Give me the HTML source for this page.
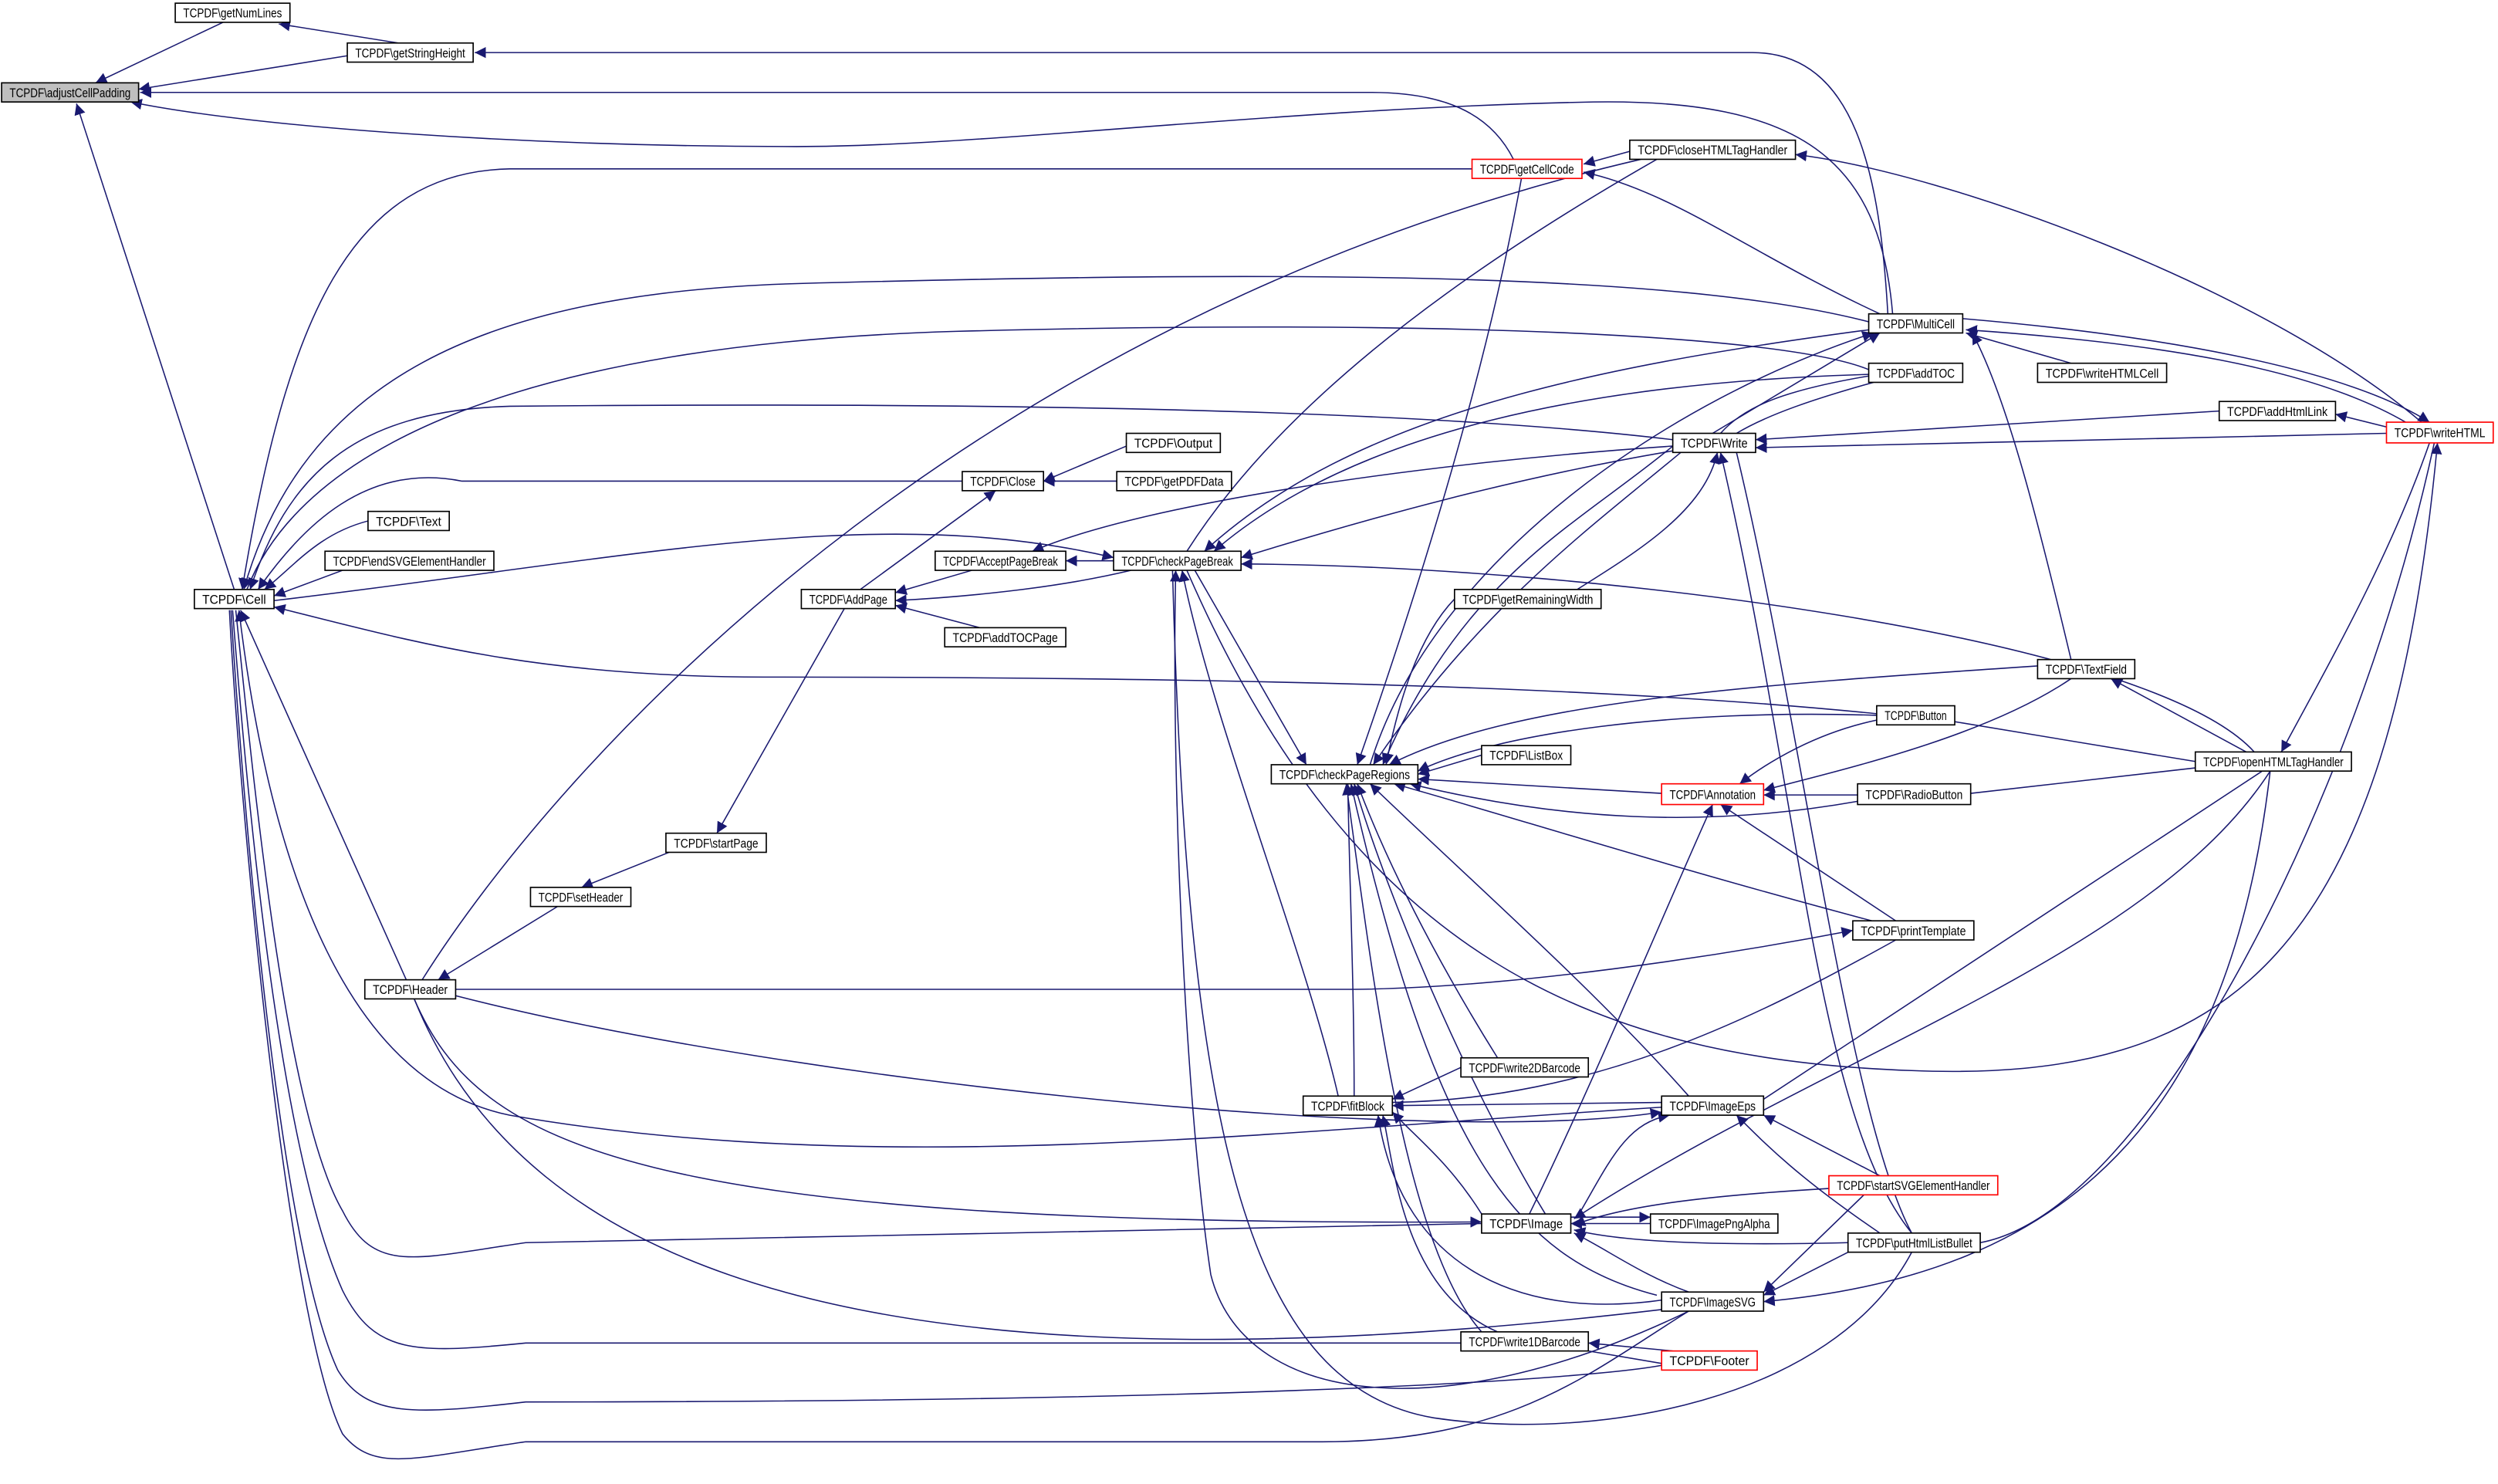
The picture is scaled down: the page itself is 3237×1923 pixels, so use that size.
<!DOCTYPE html>
<html><head><meta charset="utf-8"><style>
html,body{margin:0;padding:0;background:#fff;}
svg{display:block;}
text{font-family:"Liberation Sans",Arial,sans-serif;font-size:8px;text-anchor:middle;fill:#000;}
.e{fill:none;stroke:#191970;stroke-width:0.75;}
.n{fill:#fff;stroke:#000;stroke-width:0.8;}
.r{fill:#fff;stroke:#ff0000;stroke-width:0.8;}
</style></head><body>
<svg width="3237" height="1923" viewBox="0 0 1568 931.5" xmlns="http://www.w3.org/2000/svg">
<defs><marker id="a" viewBox="0 0 10 10" refX="10" refY="5" markerWidth="7" markerHeight="7" markerUnits="userSpaceOnUse" orient="auto-start-reverse"><path d="M0,0 L10,5 L0,10 z" fill="#191970"/></marker></defs>
<g class="e">
<path d="M140,14 L60,52" marker-end="url(#a)"/>
<path d="M250,27 L175,15" marker-end="url(#a)"/>
<path d="M218,35 L87,56" marker-end="url(#a)"/>
<path d="M1185,197 C1180,110 1165,33 1100,33 L298,33" marker-end="url(#a)"/>
<path d="M950,100 C935,70 905,58 860,58 L88,58" marker-end="url(#a)"/>
<path d="M1188,197 C1180,100 1130,62 1000,64 C800,68 620,92 500,92 C330,92 160,80 82,64" marker-end="url(#a)"/>
<path d="M147,370 L48,65" marker-end="url(#a)"/>
<path d="M924,106 L320,106 C220,108 180,200 152,370" marker-end="url(#a)"/>
<path d="M1023,95 L994,103" marker-end="url(#a)"/>
<path d="M1180,197 C1100,160 1050,120 994,108" marker-end="url(#a)"/>
<path d="M1520,265 C1420,180 1220,108 1127,97" marker-end="url(#a)"/>
<path d="M955,112 C930,250 880,400 852,480" marker-end="url(#a)"/>
<path d="M1173,202 C1050,170 800,170 500,178 C300,184 190,240 153,370" marker-end="url(#a)"/>
<path d="M1173,232 C1120,210 900,200 600,208 C330,216 190,280 155,370"/>
<path d="M1050,276 C900,258 650,252 320,255 C220,258 180,300 157,370" marker-end="url(#a)"/>
<path d="M604,302 L290,302 C230,290 190,330 162,370" marker-end="url(#a)"/>
<path d="M231,327 C200,335 185,355 166,370" marker-end="url(#a)"/>
<path d="M215,358 L172,374" marker-end="url(#a)"/>
<path d="M172,377 C400,350 550,315 699,350" marker-end="url(#a)"/>
<path d="M1178,448 C1000,430 750,425 480,425 C330,425 250,400 172,381" marker-end="url(#a)"/>
<path d="M255,615 L151,383" marker-end="url(#a)"/>
<path d="M1043,695 C800,710 550,740 320,700 C220,680 170,550 150,383" marker-end="url(#a)"/>
<path d="M930,768 L330,780 C260,790 235,800 215,760 C180,700 160,500 148,383"/>
<path d="M917,843 L330,843 C260,850 235,850 215,810 C175,720 155,500 146,383"/>
<path d="M1043,857 C1000,865 800,880 330,880 C260,888 230,890 212,860 C175,780 152,500 145,383"/>
<path d="M1060,823 C1000,860 950,905 830,905 L330,905 C260,915 235,925 215,900 C180,830 150,500 144,383"/>
<path d="M655,302 L707,280" marker-start="url(#a)"/>
<path d="M655,302 L701,302" marker-start="url(#a)"/>
<path d="M625,308 L540,370" marker-start="url(#a)"/>
<path d="M699,352 L669,352" marker-end="url(#a)"/>
<path d="M610,358 L562,372" marker-end="url(#a)"/>
<path d="M710,358 C660,370 600,375 562,377" marker-end="url(#a)"/>
<path d="M615,394 L562,380" marker-end="url(#a)"/>
<path d="M530,382 L450,523" marker-end="url(#a)"/>
<path d="M420,535 L365,557" marker-end="url(#a)"/>
<path d="M350,569 L275,615" marker-end="url(#a)"/>
<path d="M1050,280 C900,290 720,315 648,346" marker-end="url(#a)"/>
<path d="M1173,207 C1000,230 850,260 756,346" marker-end="url(#a)"/>
<path d="M1173,235 C1000,240 850,270 762,346" marker-end="url(#a)"/>
<path d="M1050,283 C950,300 860,325 779,350" marker-end="url(#a)"/>
<path d="M1040,100 C900,180 800,260 745,346"/>
<path d="M265,615 C350,480 600,200 1030,100"/>
<path d="M1415,472 C1350,400 1000,355 779,354" marker-end="url(#a)"/>
<path d="M1530,278 C1500,600 1400,680 1200,672 C1000,665 850,600 745,358" marker-start="url(#a)"/>
<path d="M820,480 L750,358" marker-start="url(#a)"/>
<path d="M840,688 C820,600 760,450 742,358" marker-end="url(#a)"/>
<path d="M1060,823 C900,900 780,880 760,800 C745,700 735,500 738,358" marker-end="url(#a)"/>
<path d="M1200,786 C1150,880 1000,905 900,890 C780,870 745,700 736,358"/>
<path d="M1075,272 L1180,209" marker-end="url(#a)"/>
<path d="M860,480 C900,350 1050,250 1176,209" marker-end="url(#a)"/>
<path d="M1300,228 L1234,209" marker-end="url(#a)"/>
<path d="M1510,265 C1450,230 1350,215 1234,207" marker-end="url(#a)"/>
<path d="M1300,414 C1280,330 1260,250 1238,209" marker-end="url(#a)"/>
<path d="M1232,200 C1350,210 1470,230 1525,265" marker-end="url(#a)"/>
<path d="M1176,240 C1140,250 1110,260 1090,272"/>
<path d="M1173,236 C1120,245 1095,255 1080,272"/>
<path d="M1393,258 L1102,276" marker-end="url(#a)"/>
<path d="M1498,272 L1102,281" marker-end="url(#a)"/>
<path d="M1498,268 L1466,260" marker-end="url(#a)"/>
<path d="M990,370 C1030,345 1070,320 1078,284" marker-end="url(#a)"/>
<path d="M1200,774 C1140,700 1130,500 1080,284" marker-end="url(#a)"/>
<path d="M1525,278 C1500,350 1460,420 1432,472" marker-end="url(#a)"/>
<path d="M1243,780 C1350,760 1480,500 1528,278" />
<path d="M1055,284 C1000,330 930,380 862,480" marker-end="url(#a)"/>
<path d="M1050,280 C990,330 920,360 868,480" marker-end="url(#a)"/>
<path d="M913,376 C890,400 878,440 870,480" marker-end="url(#a)"/>
<path d="M1279,418 C1100,430 950,440 872,480" marker-end="url(#a)"/>
<path d="M1178,449 C1050,445 940,460 890,484" marker-end="url(#a)"/>
<path d="M930,474 L890,486" marker-end="url(#a)"/>
<path d="M1043,498 L890,489" marker-end="url(#a)"/>
<path d="M1166,503 C1070,520 980,515 885,492" marker-end="url(#a)"/>
<path d="M1175,578 C1050,545 940,510 875,492" marker-end="url(#a)"/>
<path d="M1060,688 C1000,620 920,550 860,492" marker-end="url(#a)"/>
<path d="M940,664 C900,600 870,540 852,492" marker-end="url(#a)"/>
<path d="M850,688 C850,620 847,550 846,492" marker-end="url(#a)"/>
<path d="M970,762 C920,680 870,560 850,492" marker-end="url(#a)"/>
<path d="M1040,813 C950,790 900,720 848,492" marker-end="url(#a)"/>
<path d="M930,836 C880,780 860,600 845,492" marker-end="url(#a)"/>
<path d="M1410,472 L1325,426" marker-end="url(#a)"/>
<path d="M1300,426 C1250,460 1170,480 1107,496" marker-end="url(#a)"/>
<path d="M1178,452 C1140,460 1110,478 1092,492" marker-end="url(#a)"/>
<path d="M1166,499 L1107,499" marker-end="url(#a)"/>
<path d="M1190,578 L1080,505" marker-end="url(#a)"/>
<path d="M960,762 C1000,680 1050,560 1075,505" marker-end="url(#a)"/>
<path d="M1227,453 L1378,478"/>
<path d="M1237,498 L1378,482"/>
<path d="M286,621 L850,621 C950,620 1080,600 1163,584" marker-end="url(#a)"/>
<path d="M874,692 C1000,690 1100,640 1190,590"/>
<path d="M917,670 L874,690" marker-end="url(#a)"/>
<path d="M1043,692 L874,694" marker-end="url(#a)"/>
<path d="M930,762 C910,730 890,715 874,698" marker-end="url(#a)"/>
<path d="M1050,815 C960,830 880,800 865,700" marker-end="url(#a)"/>
<path d="M940,836 C880,810 875,730 868,700" marker-end="url(#a)"/>
<path d="M286,625 C500,680 900,720 1043,698" marker-end="url(#a)"/>
<path d="M990,764 C1010,730 1020,705 1048,700" marker-end="url(#a)"/>
<path d="M1180,738 L1107,700" marker-end="url(#a)"/>
<path d="M1180,774 C1130,740 1110,720 1090,700" marker-end="url(#a)"/>
<path d="M1107,690 L1420,484"/>
<path d="M260,627 C300,720 400,770 930,767" marker-end="url(#a)"/>
<path d="M1036,768 L986,768" marker-end="url(#a)"/>
<path d="M986,764 L1036,764" marker-end="url(#a)"/>
<path d="M1148,746 C1080,750 1020,756 988,769" marker-end="url(#a)"/>
<path d="M1160,780 C1080,782 1020,780 988,772" marker-end="url(#a)"/>
<path d="M1060,811 C1030,800 1010,785 988,774" marker-end="url(#a)"/>
<path d="M1425,484 C1350,600 1150,660 988,765" marker-end="url(#a)"/>
<path d="M260,627 C330,800 550,880 1043,822"/>
<path d="M1170,750 L1107,811" marker-end="url(#a)"/>
<path d="M1160,786 L1107,813" marker-end="url(#a)"/>
<path d="M1425,484 C1400,700 1300,800 1107,817" marker-end="url(#a)"/>
<path d="M1050,848 L997,843" marker-end="url(#a)"/>
<path d="M997,848 L1050,857"/>
<path d="M1090,284 C1130,450 1160,700 1200,774"/>
</g>
<g>
<rect class="n" x="1" y="52" width="86" height="12" style="fill:#bfbfbf"/><text x="44" y="61" textLength="76" lengthAdjust="spacingAndGlyphs">TCPDF\adjustCellPadding</text>
<rect class="n" x="110" y="2" width="72" height="12"/><text x="146" y="11" textLength="62" lengthAdjust="spacingAndGlyphs">TCPDF\getNumLines</text>
<rect class="n" x="218" y="27" width="79" height="12"/><text x="257.5" y="36" textLength="69" lengthAdjust="spacingAndGlyphs">TCPDF\getStringHeight</text>
<rect class="n" x="122" y="370" width="50" height="12"/><text x="147" y="379" textLength="40" lengthAdjust="spacingAndGlyphs">TCPDF\Cell</text>
<rect class="r" x="924" y="100" width="69" height="12"/><text x="958.5" y="109" textLength="59" lengthAdjust="spacingAndGlyphs">TCPDF\getCellCode</text>
<rect class="n" x="1023" y="88" width="104" height="12"/><text x="1075" y="97" textLength="94" lengthAdjust="spacingAndGlyphs">TCPDF\closeHTMLTagHandler</text>
<rect class="n" x="1173" y="197" width="59" height="12"/><text x="1202.5" y="206" textLength="49" lengthAdjust="spacingAndGlyphs">TCPDF\MultiCell</text>
<rect class="n" x="1173" y="228" width="59" height="12"/><text x="1202.5" y="237" textLength="49" lengthAdjust="spacingAndGlyphs">TCPDF\addTOC</text>
<rect class="n" x="1279" y="228" width="81" height="12"/><text x="1319.5" y="237" textLength="71" lengthAdjust="spacingAndGlyphs">TCPDF\writeHTMLCell</text>
<rect class="n" x="1393" y="252" width="73" height="12"/><text x="1429.5" y="261" textLength="63" lengthAdjust="spacingAndGlyphs">TCPDF\addHtmlLink</text>
<rect class="r" x="1498" y="265" width="67" height="13"/><text x="1531.5" y="274.5" textLength="57" lengthAdjust="spacingAndGlyphs">TCPDF\writeHTML</text>
<rect class="n" x="1050" y="272" width="52" height="12"/><text x="1076" y="281" textLength="42" lengthAdjust="spacingAndGlyphs">TCPDF\Write</text>
<rect class="n" x="707" y="272" width="59" height="12"/><text x="736.5" y="281" textLength="49" lengthAdjust="spacingAndGlyphs">TCPDF\Output</text>
<rect class="n" x="604" y="296" width="51" height="12"/><text x="629.5" y="305" textLength="41" lengthAdjust="spacingAndGlyphs">TCPDF\Close</text>
<rect class="n" x="701" y="296" width="72" height="12"/><text x="737" y="305" textLength="62" lengthAdjust="spacingAndGlyphs">TCPDF\getPDFData</text>
<rect class="n" x="231" y="321" width="51" height="12"/><text x="256.5" y="330" textLength="41" lengthAdjust="spacingAndGlyphs">TCPDF\Text</text>
<rect class="n" x="204" y="346" width="106" height="12"/><text x="257" y="355" textLength="96" lengthAdjust="spacingAndGlyphs">TCPDF\endSVGElementHandler</text>
<rect class="n" x="587" y="346" width="82" height="12"/><text x="628" y="355" textLength="72" lengthAdjust="spacingAndGlyphs">TCPDF\AcceptPageBreak</text>
<rect class="n" x="699" y="346" width="80" height="12"/><text x="739" y="355" textLength="70" lengthAdjust="spacingAndGlyphs">TCPDF\checkPageBreak</text>
<rect class="n" x="503" y="370" width="59" height="12"/><text x="532.5" y="379" textLength="49" lengthAdjust="spacingAndGlyphs">TCPDF\AddPage</text>
<rect class="n" x="593" y="394" width="76" height="12"/><text x="631" y="403" textLength="66" lengthAdjust="spacingAndGlyphs">TCPDF\addTOCPage</text>
<rect class="n" x="913" y="370" width="92" height="12"/><text x="959" y="379" textLength="82" lengthAdjust="spacingAndGlyphs">TCPDF\getRemainingWidth</text>
<rect class="n" x="1279" y="414" width="61" height="12"/><text x="1309.5" y="423" textLength="51" lengthAdjust="spacingAndGlyphs">TCPDF\TextField</text>
<rect class="n" x="1178" y="443" width="49" height="12"/><text x="1202.5" y="452" textLength="39" lengthAdjust="spacingAndGlyphs">TCPDF\Button</text>
<rect class="n" x="930" y="468" width="56" height="12"/><text x="958" y="477" textLength="46" lengthAdjust="spacingAndGlyphs">TCPDF\ListBox</text>
<rect class="n" x="798" y="480" width="92" height="12"/><text x="844" y="489" textLength="82" lengthAdjust="spacingAndGlyphs">TCPDF\checkPageRegions</text>
<rect class="n" x="1378" y="472" width="98" height="12"/><text x="1427" y="481" textLength="88" lengthAdjust="spacingAndGlyphs">TCPDF\openHTMLTagHandler</text>
<rect class="r" x="1043" y="492" width="64" height="13"/><text x="1075" y="501.5" textLength="54" lengthAdjust="spacingAndGlyphs">TCPDF\Annotation</text>
<rect class="n" x="1166" y="492" width="71" height="13"/><text x="1201.5" y="501.5" textLength="61" lengthAdjust="spacingAndGlyphs">TCPDF\RadioButton</text>
<rect class="n" x="418" y="523" width="63" height="12"/><text x="449.5" y="532" textLength="53" lengthAdjust="spacingAndGlyphs">TCPDF\startPage</text>
<rect class="n" x="333" y="557" width="63" height="12"/><text x="364.5" y="566" textLength="53" lengthAdjust="spacingAndGlyphs">TCPDF\setHeader</text>
<rect class="n" x="1163" y="578" width="76" height="12"/><text x="1201" y="587" textLength="66" lengthAdjust="spacingAndGlyphs">TCPDF\printTemplate</text>
<rect class="n" x="229" y="615" width="57" height="12"/><text x="257.5" y="624" textLength="47" lengthAdjust="spacingAndGlyphs">TCPDF\Header</text>
<rect class="n" x="917" y="664" width="80" height="12"/><text x="957" y="673" textLength="70" lengthAdjust="spacingAndGlyphs">TCPDF\write2DBarcode</text>
<rect class="n" x="818" y="688" width="56" height="12"/><text x="846" y="697" textLength="46" lengthAdjust="spacingAndGlyphs">TCPDF\fitBlock</text>
<rect class="n" x="1043" y="688" width="64" height="12"/><text x="1075" y="697" textLength="54" lengthAdjust="spacingAndGlyphs">TCPDF\ImageEps</text>
<rect class="r" x="1148" y="738" width="106" height="12"/><text x="1201" y="747" textLength="96" lengthAdjust="spacingAndGlyphs">TCPDF\startSVGElementHandler</text>
<rect class="n" x="930" y="762" width="56" height="12"/><text x="958" y="771" textLength="46" lengthAdjust="spacingAndGlyphs">TCPDF\Image</text>
<rect class="n" x="1036" y="762" width="80" height="12"/><text x="1076" y="771" textLength="70" lengthAdjust="spacingAndGlyphs">TCPDF\ImagePngAlpha</text>
<rect class="n" x="1160" y="774" width="83" height="12"/><text x="1201.5" y="783" textLength="73" lengthAdjust="spacingAndGlyphs">TCPDF\putHtmlListBullet</text>
<rect class="n" x="1043" y="811" width="64" height="12"/><text x="1075" y="820" textLength="54" lengthAdjust="spacingAndGlyphs">TCPDF\ImageSVG</text>
<rect class="n" x="917" y="836" width="80" height="12"/><text x="957" y="845" textLength="70" lengthAdjust="spacingAndGlyphs">TCPDF\write1DBarcode</text>
<rect class="r" x="1043" y="848" width="60" height="12"/><text x="1073" y="857" textLength="50" lengthAdjust="spacingAndGlyphs">TCPDF\Footer</text>
</g>
</svg>
</body></html>
